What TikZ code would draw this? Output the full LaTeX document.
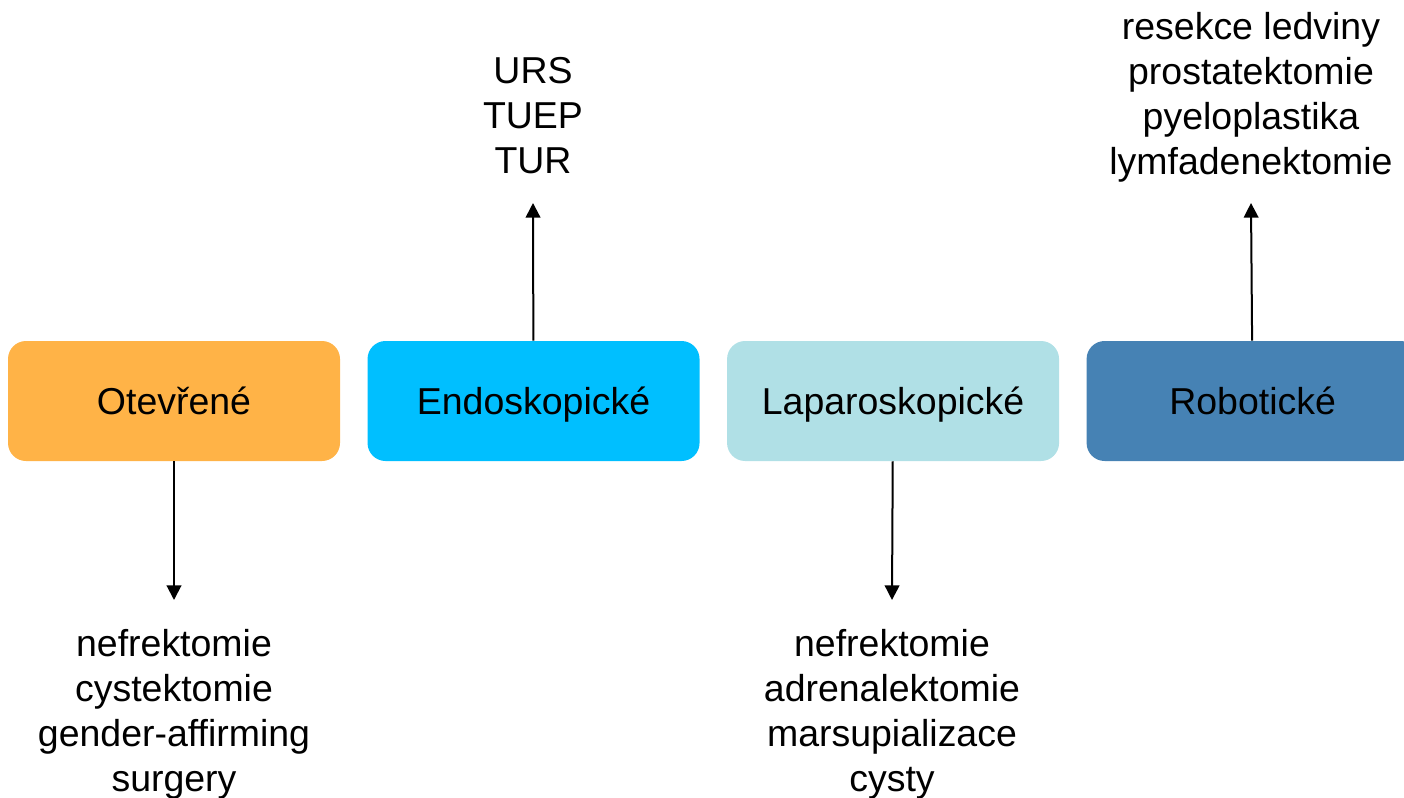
\documentclass[tikz,border=0pt]{standalone}
\usepackage{fontspec}
\setmainfont{Liberation Sans}
\usetikzlibrary{arrows.meta, positioning}

\definecolor{openorange}{HTML}{FFB347}
\definecolor{endocyan}{HTML}{00BFFF}
\definecolor{laparoblue}{HTML}{B0E0E6}
\definecolor{robosteel}{HTML}{4682B4}

\begin{document}
\begin{tikzpicture}[
  x=0.75pt, y=-0.75pt,
  node distance=20.25pt,
  box/.style={rounded corners=13.5pt, minimum width=249pt, minimum height=90pt,
              inner sep=0pt, text height=20.1pt, text depth=0pt,
              font=\fontsize{28.1}{33.75}\selectfont},
  list/.style={align=center, inner sep=0pt, anchor=north,
               font=\fontsize{28.1}{33.75}\selectfont},
  arr/.style={-{Triangle[width=11pt, length=11pt]}, line width=1.5pt}
]
  \useasboundingbox (0,0) rectangle (1404,797);

  \node[box, fill=openorange] (open) at (174,401) {Otevřené};
  \node[box, fill=endocyan, right=of open] (endo) {Endoskopické};
  \node[box, fill=laparoblue, right=of endo] (laparo) {Laparoskopické};
  \node[box, fill=robosteel, right=of laparo] (robo) {Robotické};

  \node[list] (openlist) at (174,629) {nefrektomie\\cystektomie\\gender-affirming\\surgery};
  \node[list] (endolist) at (533,57) {URS\\TUEP\\TUR};
  \node[list] (laparolist) at (892,629) {nefrektomie\\adrenalektomie\\marsupializace\\cysty};
  \node[list] (robolist) at (1251,12) {resekce ledviny\\prostatektomie\\pyeloplastika\\lymfadenektomie};

  \coordinate (opentip) at (174,600);
  \coordinate (endotip) at (533,203);
  \coordinate (laparotip) at (892,600);
  \coordinate (robotip) at (1251,203);

  \draw[arr] (open) -- (opentip);
  \draw[arr] (endo) -- (endotip);
  \draw[arr] (laparo) -- (laparotip);
  \draw[arr] (robo) -- (robotip);
\end{tikzpicture}
\end{document}
